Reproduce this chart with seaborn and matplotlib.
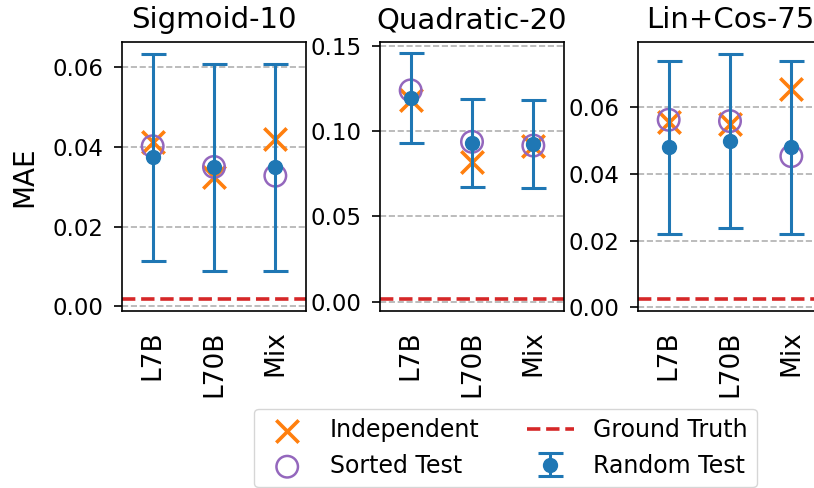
import numpy as np
import pandas as pd
import matplotlib
matplotlib.use("Agg")
import matplotlib.pyplot as plt
import seaborn as sns

sns.set_style("white")
plt.rcParams['font.family'] = ['DejaVu Sans']
for k in ["text.color", "axes.labelcolor", "xtick.color", "ytick.color", "axes.edgecolor"]:
    plt.rcParams[k] = "black"

# ---- data ----
models = ["L7B", "L70B", "Mix"]
titles = ["Sigmoid-10", "Quadratic-20", "Lin+Cos-75"]

random_mean = [[0.0374, 0.0349, 0.0349],
               [0.1192, 0.0931, 0.0924],
               [0.0479, 0.0498, 0.0480]]
random_err = [[0.0261, 0.0260, 0.0260],
              [0.0262, 0.0259, 0.0259],
              [0.0260, 0.0261, 0.0259]]
independent = [[0.0413, 0.0325, 0.0419],
               [0.1180, 0.0816, 0.0915],
               [0.0555, 0.0550, 0.0655]]
sorted_test = [[0.0402, 0.0350, 0.0328],
               [0.1238, 0.0937, 0.0915],
               [0.0562, 0.0558, 0.0453]]
ground_truth = [0.0018, 0.0018, 0.0025]

ylims = [(-0.0012, 0.0664), (-0.0053, 0.1521), (-0.0011, 0.0795)]
yticks = [[0.00, 0.02, 0.04, 0.06], [0.00, 0.05, 0.10, 0.15], [0.00, 0.02, 0.04, 0.06]]

C_BLUE = "#1f77b4"
C_ORANGE = "#ff7f0e"
C_PURPLE = "#9467bd"
C_RED = "#d62728"

W, H = 814, 488
fig = plt.figure(figsize=(W / 100, H / 100), dpi=100)
lefts = [122, 380, 638]
ax_w, ax_top, ax_bot = 184, 42, 311

axes = []
for i in range(3):
    ax = fig.add_axes([lefts[i] / W, (H - ax_bot) / H, ax_w / W, (ax_bot - ax_top) / H])
    axes.append(ax)
    df = pd.DataFrame({"model": models, "x": np.arange(3),
                       "ind": independent[i], "srt": sorted_test[i],
                       "rm": random_mean[i], "re": random_err[i]})
    ax.set_axisbelow(True)
    ax.yaxis.grid(True, linestyle="--", color="#b0b0b0", linewidth=1.2)
    sns.scatterplot(data=df, x="x", y="ind", marker="x", s=260, color=C_ORANGE,
                    linewidth=2.6, ax=ax, label="Independent", zorder=3)
    sns.scatterplot(data=df, x="x", y="srt", marker="o", s=240, facecolor="none",
                    edgecolor=C_PURPLE, linewidth=1.8, ax=ax, label="Sorted Test", zorder=3)
    ax.axhline(ground_truth[i], color=C_RED, linestyle="--", linewidth=2.6,
               label="Ground Truth", zorder=2)
    ax.errorbar(df["x"], df["rm"], yerr=df["re"], fmt="o", color=C_BLUE, ms=10,
                capsize=9, elinewidth=2.2, capthick=2.2, label="Random Test", zorder=4)
    ax.set_xlim(-0.5, 2.5)
    ax.set_ylim(*ylims[i])
    ax.set_yticks(yticks[i])
    ax.set_yticklabels([f"{t:.2f}" for t in yticks[i]])
    ax.set_xticks(np.arange(3))
    ax.set_xticklabels(models, rotation=90)
    ax.tick_params(axis="y", labelsize=16.5, length=5.5, width=1.2, pad=8,
                   direction="out", left=True)
    ax.tick_params(axis="x", labelsize=19, length=0, pad=14, bottom=True)
    ax.set_xlabel("")
    ax.set_ylabel("")
    ax.set_title(titles[i], fontsize=21, pad=10)
    for sp in ax.spines.values():
        sp.set_visible(True)
        sp.set_color("black")
        sp.set_linewidth(1.2)
    if ax.get_legend() is not None:
        ax.get_legend().remove()

axes[0].set_ylabel("MAE", fontsize=20, labelpad=10)

handles, labels = axes[0].get_legend_handles_labels()
order = ["Independent", "Sorted Test", "Ground Truth", "Random Test"]
hmap = dict(zip(labels, handles))
fig.legend([hmap[k] for k in order], order, ncol=2, loc="center",
           bbox_to_anchor=(505.5 / W, (H - 448) / H), fontsize=17, frameon=True)

fig.savefig("out.png", dpi=100)
